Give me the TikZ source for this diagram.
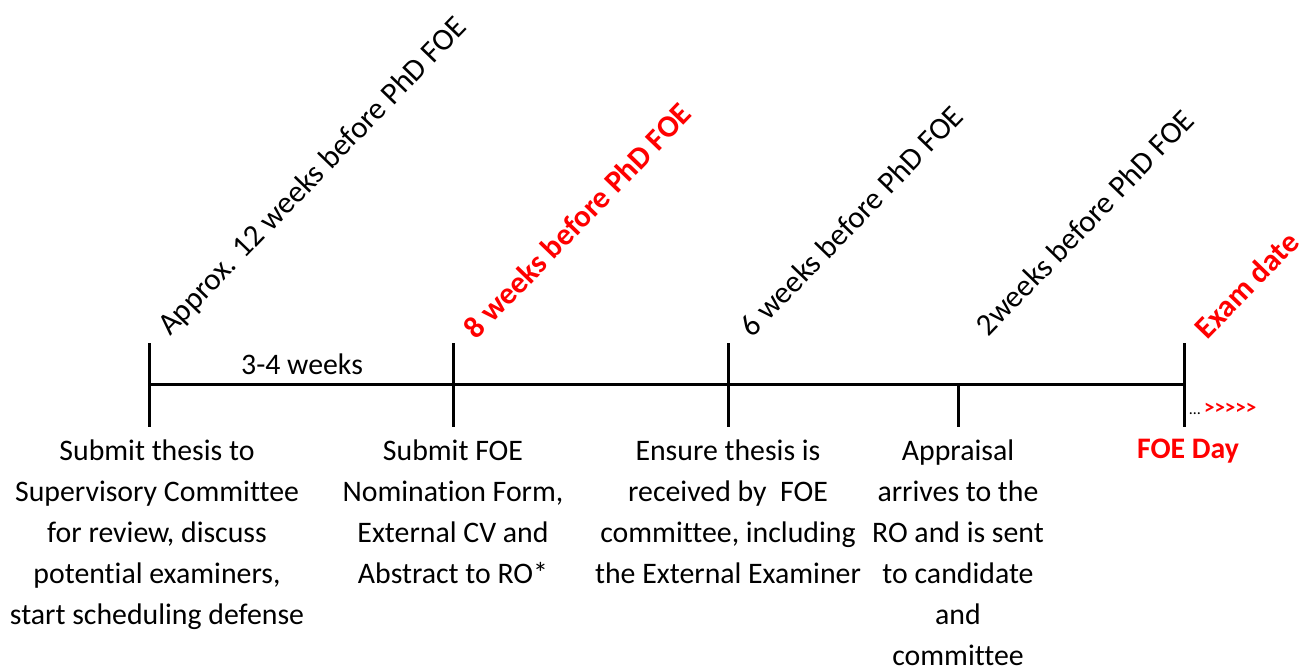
\documentclass[tikz,border=0pt]{standalone}
\usepackage{fontspec}
\setmainfont{Carlito}[Ligatures={NoCommon}]
\usepackage{tikz}
\tikzset{
	stagelabel/.style={rotate=46, anchor=south west, inner sep=0pt, font=\fontsize{15.5}{18}\selectfont},
	keylabel/.style={stagelabel, text=red, font=\fontsize{15.5}{18}\selectfont\bfseries},
	taskbox/.style={align=center, anchor=north, inner sep=0pt, font=\fontsize{14.9}{20.5}\selectfont},
	tickline/.style={line width=1.5pt}
}
\newcommand{\gtrun}{>\kern0pt>\kern0pt>\kern0pt>\kern0pt>}

\begin{document}
\begin{tikzpicture}[x=0.5pt, y=-0.5pt]
			\useasboundingbox (0,0) rectangle (1301,668);
			% time line and ticks
			\coordinate (t1) at (149,384);
			\coordinate (t2) at (453,384);
			\coordinate (t3) at (728,384);
			\coordinate (t4) at (958,384);
			\coordinate (t5) at (1184,384);
			\draw[tickline] (t1) -- (t5);
			\draw[tickline] ([yshift=20.5pt]t1) -- ([yshift=-21.5pt]t1);
			\draw[tickline] ([yshift=20.5pt]t2) -- ([yshift=-21.5pt]t2);
			\draw[tickline] ([yshift=20.5pt]t3) -- ([yshift=-21.5pt]t3);
			\draw[tickline] (t4) -- ([yshift=-21.5pt]t4);
			\draw[tickline] ([yshift=20.5pt]t5) -- ([yshift=-21.5pt]t5);
			
			\node[taskbox, anchor=base] (gap) at (302,374) {3-4 weeks};
			
			% labels above
			\node[stagelabel] (w12) at (174,341) {Approx. 12 weeks before PhD FOE};
			\node[keylabel] (w8) at (477,341) {8 weeks before PhD FOE};
			\node[stagelabel] (w6) at (753,339) {6 weeks before PhD FOE};
			\node[stagelabel] (w2) at (989,338) {2weeks before PhD FOE};
			\node[keylabel] (exam) at (1208,341) {Exam date};
			
			% tasks below
			\node[taskbox] (task1) at (157,439) {Submit thesis to\\Supervisory Committee\\for review, discuss\\potential examiners,\\start scheduling defense};
			\node[taskbox] (task2) at (453,439) {Submit FOE\\Nomination Form,\\External CV and\\Abstract to RO*};
			\node[taskbox] (task3) at (728,439) {Ensure thesis is\\received by\ \ FOE\\committee, including\\the External Examiner};
			\node[taskbox] (task4) at (958,439) {Appraisal\\arrives to the\\RO and is sent\\to candidate\\and\\committee};
			\node[taskbox, text=red, font=\fontsize{14.9}{20.5}\selectfont\bfseries] (foeday) at (1188,439) {FOE Day};
			\node[anchor=west, inner sep=0pt, font=\fontsize{8}{10}\selectfont] (more) at (1189,409) {\ldots\ {\fontsize{10.5}{12}\selectfont\bfseries\color{red}\gtrun}};
		\end{tikzpicture}
\end{document}
